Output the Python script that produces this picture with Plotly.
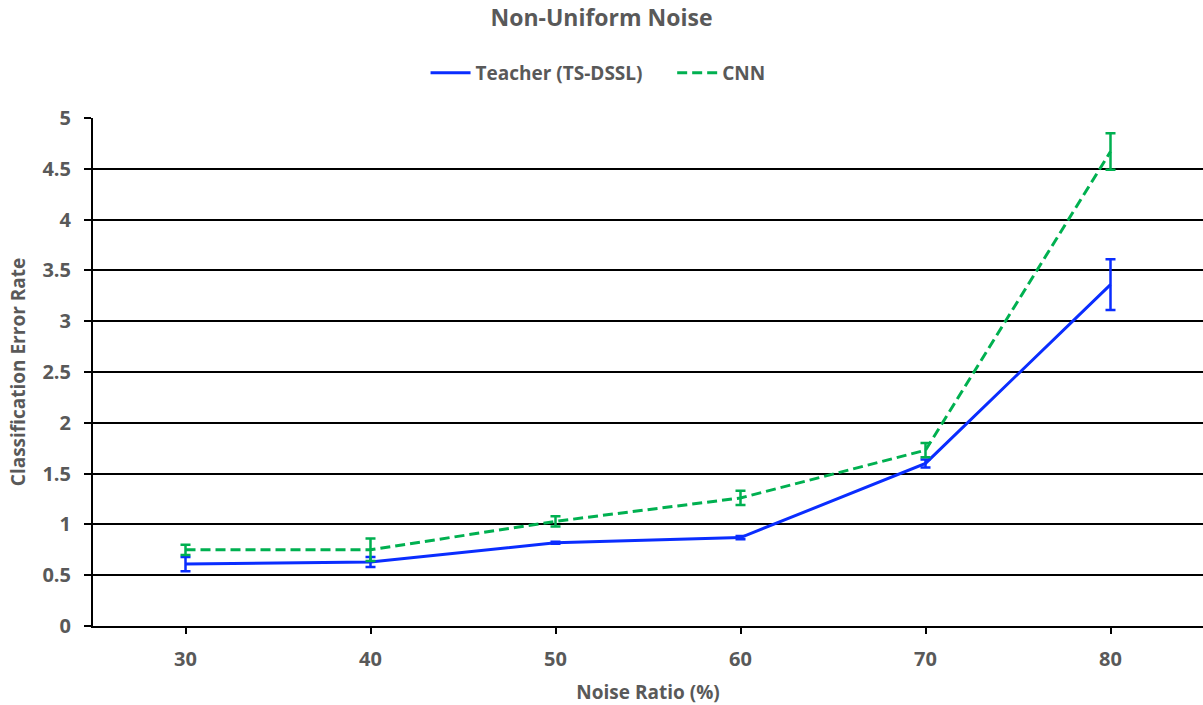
import plotly.graph_objects as go

# Noise ratio (%) on the x axis
noise_ratio = [30, 40, 50, 60, 70, 80]

# Classification error rate and its spread for each model
teacher_err = [0.61, 0.63, 0.82, 0.87, 1.60, 3.36]
teacher_sd = [0.07, 0.05, 0.01, 0.015, 0.04, 0.25]
cnn_err = [0.75, 0.75, 1.03, 1.26, 1.73, 4.67]
cnn_sd = [0.05, 0.11, 0.05, 0.07, 0.07, 0.18]

yticks = [0, 0.5, 1, 1.5, 2, 2.5, 3, 3.5, 4, 4.5, 5]

BLUE = "#0a2dff"
GREEN = "#00b050"
GRAY = "#595959"
FONT = "Open Sans"


def bold(size):
    return dict(family=FONT, color=GRAY, size=size, weight="bold")


fig = go.Figure()
fig.add_trace(go.Scatter(
    x=noise_ratio, y=teacher_err, mode="lines", name="Teacher (TS-DSSL)     ",
    line=dict(color=BLUE, width=3),
    error_y=dict(type="data", array=teacher_sd, visible=True,
                 color=BLUE, thickness=2.5, width=5),
))
fig.add_trace(go.Scatter(
    x=noise_ratio, y=cnn_err, mode="lines", name="CNN",
    line=dict(color=GREEN, width=3, dash="10px,5px"),
    error_y=dict(type="data", array=cnn_sd, visible=True,
                 color=GREEN, thickness=2.5, width=5),
))

fig.update_layout(
    width=1203, height=705,
    margin=dict(l=93, r=0, t=118, b=79),
    paper_bgcolor="white", plot_bgcolor="white",
    font=bold(19),
    title=dict(text="Non-Uniform Noise", x=0.5, xanchor="center",
               y=0.974, yanchor="middle", font=bold(23)),
    legend=dict(orientation="h", x=0.455, xanchor="center", y=1.089, yanchor="middle",
                font=bold(19), itemwidth=40, traceorder="normal"),
    showlegend=True,
)
fig.update_xaxes(
    range=[25, 85], tickmode="array", tickvals=noise_ratio,
    showgrid=False, zeroline=False,
    showline=True, linecolor="black", linewidth=2,
    ticks="outside", ticklen=6, tickwidth=2, tickcolor="black",
    tickfont=bold(20), ticklabelstandoff=8,
    title=dict(text="Noise Ratio (%)", font=bold(19), standoff=16),
)
fig.update_yaxes(
    range=[0, 5], tickmode="array", tickvals=yticks,
    ticktext=[f"{v:g}" for v in yticks],
    showgrid=True, gridcolor="black", gridwidth=1.6, zeroline=False,
    showline=True, linecolor="black", linewidth=2,
    ticks="outside", ticklen=7, tickwidth=2, tickcolor="black",
    tickfont=bold(20), ticklabelstandoff=9,
    title=dict(text="Classification Error Rate", font=bold(19), standoff=12),
)

fig.write_html("out.html")
